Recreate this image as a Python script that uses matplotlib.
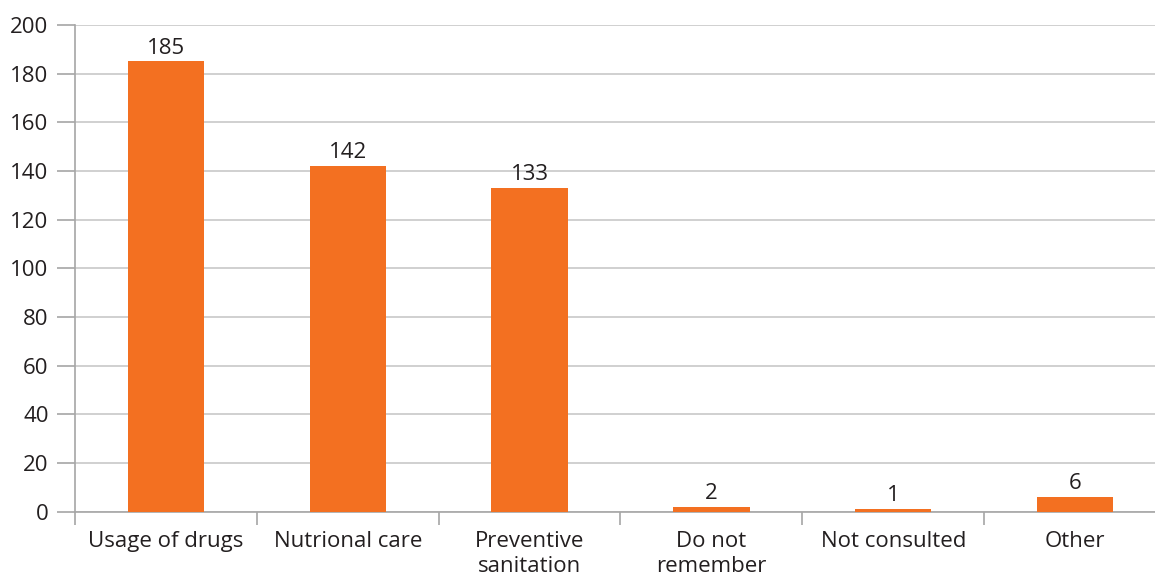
import matplotlib
matplotlib.use("Agg")
import matplotlib.pyplot as plt
import numpy as np

categories = ["Usage of drugs", "Nutrional care", "Preventive\nsanitation",
              "Do not\nremember", "Not consulted", "Other"]
counts = [185, 142, 133, 2, 1, 6]
y_ticks = [0, 20, 40, 60, 80, 100, 120, 140, 160, 180, 200]

plt.rcParams['font.family'] = ['Open Sans', 'DejaVu Sans']

W, H = 1155, 581
fig = plt.figure(figsize=(W / 100, H / 100), dpi=100)
left, right = 75 / W, 1166 / W
bottom, top = (H - 511.5) / H, (H - 25) / H
ax = fig.add_axes([left, bottom, right - left, top - bottom])

bar_color = "#F37021"
grid_color = "#C8C8C8"
axis_color = "#A6A6A6"
text_color = "#231F20"
fs = 16

x = np.arange(len(categories))
ax.bar(x, counts, width=0.42, color=bar_color, zorder=3)

for xi, v in zip(x, counts):
    ax.annotate(str(v), (xi, v), xytext=(0, 2), textcoords="offset points",
                ha="center", va="bottom", fontsize=fs, color=text_color)

ax.set_xlim(-0.5, len(categories) - 0.5)
ax.set_ylim(0, 200)
ax.set_yticks(y_ticks)
ax.set_yticklabels([str(t) for t in y_ticks], fontsize=fs, color=text_color)
ax.yaxis.grid(True, color=grid_color, linewidth=1.2, zorder=0)
ax.tick_params(axis="y", length=13, width=1.2, color=axis_color, pad=6)

# category labels centred, ticks at the category boundaries
ax.set_xticks(x)
ax.set_xticklabels(categories, fontsize=fs, color=text_color, linespacing=1.25)
ax.tick_params(axis="x", which="major", length=0, pad=14)
ax.set_xticks(np.arange(len(categories) + 1) - 0.5, minor=True)
ax.tick_params(axis="x", which="minor", length=9, width=1.2, color=axis_color)

for s in ["top", "right"]:
    ax.spines[s].set_visible(False)
ax.spines["left"].set_color(axis_color)
ax.spines["left"].set_linewidth(1.2)
ax.spines["bottom"].set_color(axis_color)
ax.spines["bottom"].set_linewidth(1.2)
ax.set_axisbelow(True)

fig.savefig("out.png", dpi=100)
